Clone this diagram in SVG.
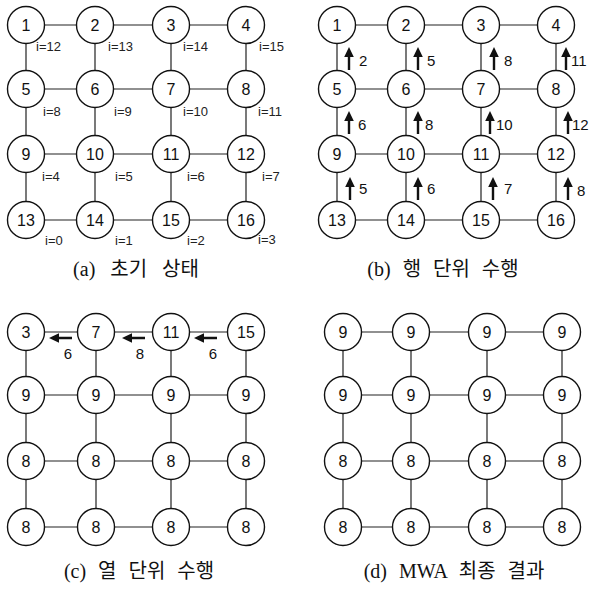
<svg xmlns="http://www.w3.org/2000/svg" xmlns:xlink="http://www.w3.org/1999/xlink" width="589" height="589" viewBox="0 0 589 589">
<style>
.e{stroke:#222;stroke-width:1.2;fill:none}
.n circle{fill:#fff;stroke:#111;stroke-width:1.4}
.n text{font-family:"Liberation Sans",Arial,sans-serif;font-size:16px;text-anchor:middle;fill:#111}
.i{font-family:"Liberation Sans",Arial,sans-serif;font-size:13px;fill:#222}
.l{font-family:"Liberation Sans",Arial,sans-serif;font-size:15px;fill:#111}
.cap{font-family:"Liberation Serif","Noto Sans CJK KR",serif;font-size:20px;fill:#111;text-anchor:middle;word-spacing:7px}
</style>
<defs>
<path id="up" d="M-1.2,0 L1.2,0 L1.2,-13 L4.8,-13 L0,-23 L-4.8,-13 L-1.2,-13 Z" fill="#111"/>
</defs>
<g id="connectors">
<path class="e" d="M26,25H246M26,89H246M26,154H246M26,220H246M26,25V220M95,25V220M171,25V220M246,25V220"/>
<path class="e" d="M337,25H556M337,89H556M337,154H556M337,220H556M337,25V220M406,25V220M481,25V220M556,25V220"/>
<path class="e" d="M26,332H246M26,395H246M26,461H246M26,527H246M26,332V527M96,332V527M171,332V527M246,332V527"/>
<path class="e" d="M343,332H562M343,395H562M343,461H562M343,527H562M343,332V527M411,332V527M487,332V527M562,332V527"/>
</g>
<g id="panel-a">
<g class="n" id="a1"><circle cx="26" cy="25" r="18.5"/><text x="26" y="31">1</text></g>
<g class="n" id="a2"><circle cx="95" cy="25" r="18.5"/><text x="95" y="31">2</text></g>
<g class="n" id="a3"><circle cx="171" cy="25" r="18.5"/><text x="171" y="31">3</text></g>
<g class="n" id="a4"><circle cx="246" cy="25" r="18.5"/><text x="246" y="31">4</text></g>
<g class="n" id="a5"><circle cx="26" cy="89" r="18.5"/><text x="26" y="95">5</text></g>
<g class="n" id="a6"><circle cx="95" cy="89" r="18.5"/><text x="95" y="95">6</text></g>
<g class="n" id="a7"><circle cx="171" cy="89" r="18.5"/><text x="171" y="95">7</text></g>
<g class="n" id="a8"><circle cx="246" cy="89" r="18.5"/><text x="246" y="95">8</text></g>
<g class="n" id="a9"><circle cx="26" cy="154" r="18.5"/><text x="26" y="160">9</text></g>
<g class="n" id="a10"><circle cx="95" cy="154" r="18.5"/><text x="95" y="160">10</text></g>
<g class="n" id="a11"><circle cx="171" cy="154" r="18.5"/><text x="171" y="160">11</text></g>
<g class="n" id="a12"><circle cx="246" cy="154" r="18.5"/><text x="246" y="160">12</text></g>
<g class="n" id="a13"><circle cx="26" cy="220" r="18.5"/><text x="26" y="226">13</text></g>
<g class="n" id="a14"><circle cx="95" cy="220" r="18.5"/><text x="95" y="226">14</text></g>
<g class="n" id="a15"><circle cx="171" cy="220" r="18.5"/><text x="171" y="226">15</text></g>
<g class="n" id="a16"><circle cx="246" cy="220" r="18.5"/><text x="246" y="226">16</text></g>
<g id="i-labels">
<text class="i" x="36" y="51">i=12</text>
<text class="i" x="108" y="51">i=13</text>
<text class="i" x="183" y="51">i=14</text>
<text class="i" x="259" y="51">i=15</text>
<text class="i" x="43" y="116">i=8</text>
<text class="i" x="114" y="116">i=9</text>
<text class="i" x="183" y="116">i=10</text>
<text class="i" x="258" y="116">i=11</text>
<text class="i" x="42" y="181">i=4</text>
<text class="i" x="115" y="181">i=5</text>
<text class="i" x="187" y="181">i=6</text>
<text class="i" x="262" y="181">i=7</text>
<text class="i" x="45" y="245">i=0</text>
<text class="i" x="115" y="245">i=1</text>
<text class="i" x="187" y="245">i=2</text>
<text class="i" x="258" y="244">i=3</text>
</g>
<text class="cap" x="136" y="276" style="word-spacing:10px">(a) 초기 상태</text>
</g>
<g id="panel-b">
<g class="n" id="b1"><circle cx="337" cy="25" r="18.5"/><text x="337" y="31">1</text></g>
<g class="n" id="b2"><circle cx="406" cy="25" r="18.5"/><text x="406" y="31">2</text></g>
<g class="n" id="b3"><circle cx="481" cy="25" r="18.5"/><text x="481" y="31">3</text></g>
<g class="n" id="b4"><circle cx="556" cy="25" r="18.5"/><text x="556" y="31">4</text></g>
<g class="n" id="b5"><circle cx="337" cy="89" r="18.5"/><text x="337" y="95">5</text></g>
<g class="n" id="b6"><circle cx="406" cy="89" r="18.5"/><text x="406" y="95">6</text></g>
<g class="n" id="b7"><circle cx="481" cy="89" r="18.5"/><text x="481" y="95">7</text></g>
<g class="n" id="b8"><circle cx="556" cy="89" r="18.5"/><text x="556" y="95">8</text></g>
<g class="n" id="b9"><circle cx="337" cy="154" r="18.5"/><text x="337" y="160">9</text></g>
<g class="n" id="b10"><circle cx="406" cy="154" r="18.5"/><text x="406" y="160">10</text></g>
<g class="n" id="b11"><circle cx="481" cy="154" r="18.5"/><text x="481" y="160">11</text></g>
<g class="n" id="b12"><circle cx="556" cy="154" r="18.5"/><text x="556" y="160">12</text></g>
<g class="n" id="b13"><circle cx="337" cy="220" r="18.5"/><text x="337" y="226">13</text></g>
<g class="n" id="b14"><circle cx="406" cy="220" r="18.5"/><text x="406" y="226">14</text></g>
<g class="n" id="b15"><circle cx="481" cy="220" r="18.5"/><text x="481" y="226">15</text></g>
<g class="n" id="b16"><circle cx="556" cy="220" r="18.5"/><text x="556" y="226">16</text></g>
<g id="b-arrows">
<use xlink:href="#up" href="#up" x="349" y="70"/>
<use xlink:href="#up" href="#up" x="418" y="70"/>
<use xlink:href="#up" href="#up" x="494" y="70"/>
<use xlink:href="#up" href="#up" x="566" y="70"/>
<use xlink:href="#up" href="#up" x="349" y="134"/>
<use xlink:href="#up" href="#up" x="418" y="134"/>
<use xlink:href="#up" href="#up" x="490" y="134"/>
<use xlink:href="#up" href="#up" x="568" y="134"/>
<use xlink:href="#up" href="#up" x="350" y="200"/>
<use xlink:href="#up" href="#up" x="418" y="200"/>
<use xlink:href="#up" href="#up" x="493" y="200"/>
<use xlink:href="#up" href="#up" x="568" y="200"/>
<text class="l" x="359" y="66">2</text>
<text class="l" x="427" y="66">5</text>
<text class="l" x="504" y="66">8</text>
<text class="l" x="571" y="66">11</text>
<text class="l" x="358" y="130">6</text>
<text class="l" x="425" y="130">8</text>
<text class="l" x="496" y="130">10</text>
<text class="l" x="572" y="130">12</text>
<text class="l" x="359" y="194">5</text>
<text class="l" x="427" y="194">6</text>
<text class="l" x="504" y="194">7</text>
<text class="l" x="577" y="196">8</text>
</g>
<text class="cap" x="443" y="276">(b) 행 단위 수행</text>
</g>
<g id="panel-c">
<g class="n" id="c1"><circle cx="26" cy="332" r="18.5"/><text x="26" y="338">3</text></g>
<g class="n" id="c2"><circle cx="96" cy="332" r="18.5"/><text x="96" y="338">7</text></g>
<g class="n" id="c3"><circle cx="171" cy="332" r="18.5"/><text x="171" y="338">11</text></g>
<g class="n" id="c4"><circle cx="246" cy="332" r="18.5"/><text x="246" y="338">15</text></g>
<g class="n" id="c5"><circle cx="26" cy="395" r="18.5"/><text x="26" y="401">9</text></g>
<g class="n" id="c6"><circle cx="96" cy="395" r="18.5"/><text x="96" y="401">9</text></g>
<g class="n" id="c7"><circle cx="171" cy="395" r="18.5"/><text x="171" y="401">9</text></g>
<g class="n" id="c8"><circle cx="246" cy="395" r="18.5"/><text x="246" y="401">9</text></g>
<g class="n" id="c9"><circle cx="26" cy="461" r="18.5"/><text x="26" y="467">8</text></g>
<g class="n" id="c10"><circle cx="96" cy="461" r="18.5"/><text x="96" y="467">8</text></g>
<g class="n" id="c11"><circle cx="171" cy="461" r="18.5"/><text x="171" y="467">8</text></g>
<g class="n" id="c12"><circle cx="246" cy="461" r="18.5"/><text x="246" y="467">8</text></g>
<g class="n" id="c13"><circle cx="26" cy="527" r="18.5"/><text x="26" y="533">8</text></g>
<g class="n" id="c14"><circle cx="96" cy="527" r="18.5"/><text x="96" y="533">8</text></g>
<g class="n" id="c15"><circle cx="171" cy="527" r="18.5"/><text x="171" y="533">8</text></g>
<g class="n" id="c16"><circle cx="246" cy="527" r="18.5"/><text x="246" y="533">8</text></g>
<g id="c-arrows">
<use xlink:href="#up" href="#up" transform="translate(72,338) rotate(-90)"/>
<use xlink:href="#up" href="#up" transform="translate(145,338) rotate(-90)"/>
<use xlink:href="#up" href="#up" transform="translate(217,338) rotate(-90)"/>
<text class="l" x="68" y="359" text-anchor="middle">6</text>
<text class="l" x="140" y="359" text-anchor="middle">8</text>
<text class="l" x="213" y="359" text-anchor="middle">6</text>
</g>
<text class="cap" x="139" y="578">(c) 열 단위 수행</text>
</g>
<g id="panel-d">
<g class="n" id="d1"><circle cx="343" cy="332" r="18.5"/><text x="343" y="338">9</text></g>
<g class="n" id="d2"><circle cx="411" cy="332" r="18.5"/><text x="411" y="338">9</text></g>
<g class="n" id="d3"><circle cx="487" cy="332" r="18.5"/><text x="487" y="338">9</text></g>
<g class="n" id="d4"><circle cx="562" cy="332" r="18.5"/><text x="562" y="338">9</text></g>
<g class="n" id="d5"><circle cx="343" cy="395" r="18.5"/><text x="343" y="401">9</text></g>
<g class="n" id="d6"><circle cx="411" cy="395" r="18.5"/><text x="411" y="401">9</text></g>
<g class="n" id="d7"><circle cx="487" cy="395" r="18.5"/><text x="487" y="401">9</text></g>
<g class="n" id="d8"><circle cx="562" cy="395" r="18.5"/><text x="562" y="401">9</text></g>
<g class="n" id="d9"><circle cx="343" cy="461" r="18.5"/><text x="343" y="467">8</text></g>
<g class="n" id="d10"><circle cx="411" cy="461" r="18.5"/><text x="411" y="467">8</text></g>
<g class="n" id="d11"><circle cx="487" cy="461" r="18.5"/><text x="487" y="467">8</text></g>
<g class="n" id="d12"><circle cx="562" cy="461" r="18.5"/><text x="562" y="467">8</text></g>
<g class="n" id="d13"><circle cx="343" cy="527" r="18.5"/><text x="343" y="533">8</text></g>
<g class="n" id="d14"><circle cx="411" cy="527" r="18.5"/><text x="411" y="533">8</text></g>
<g class="n" id="d15"><circle cx="487" cy="527" r="18.5"/><text x="487" y="533">8</text></g>
<g class="n" id="d16"><circle cx="562" cy="527" r="18.5"/><text x="562" y="533">8</text></g>
<text class="cap" x="454" y="578">(d) MWA 최종 결과</text>
</g>
</svg>
